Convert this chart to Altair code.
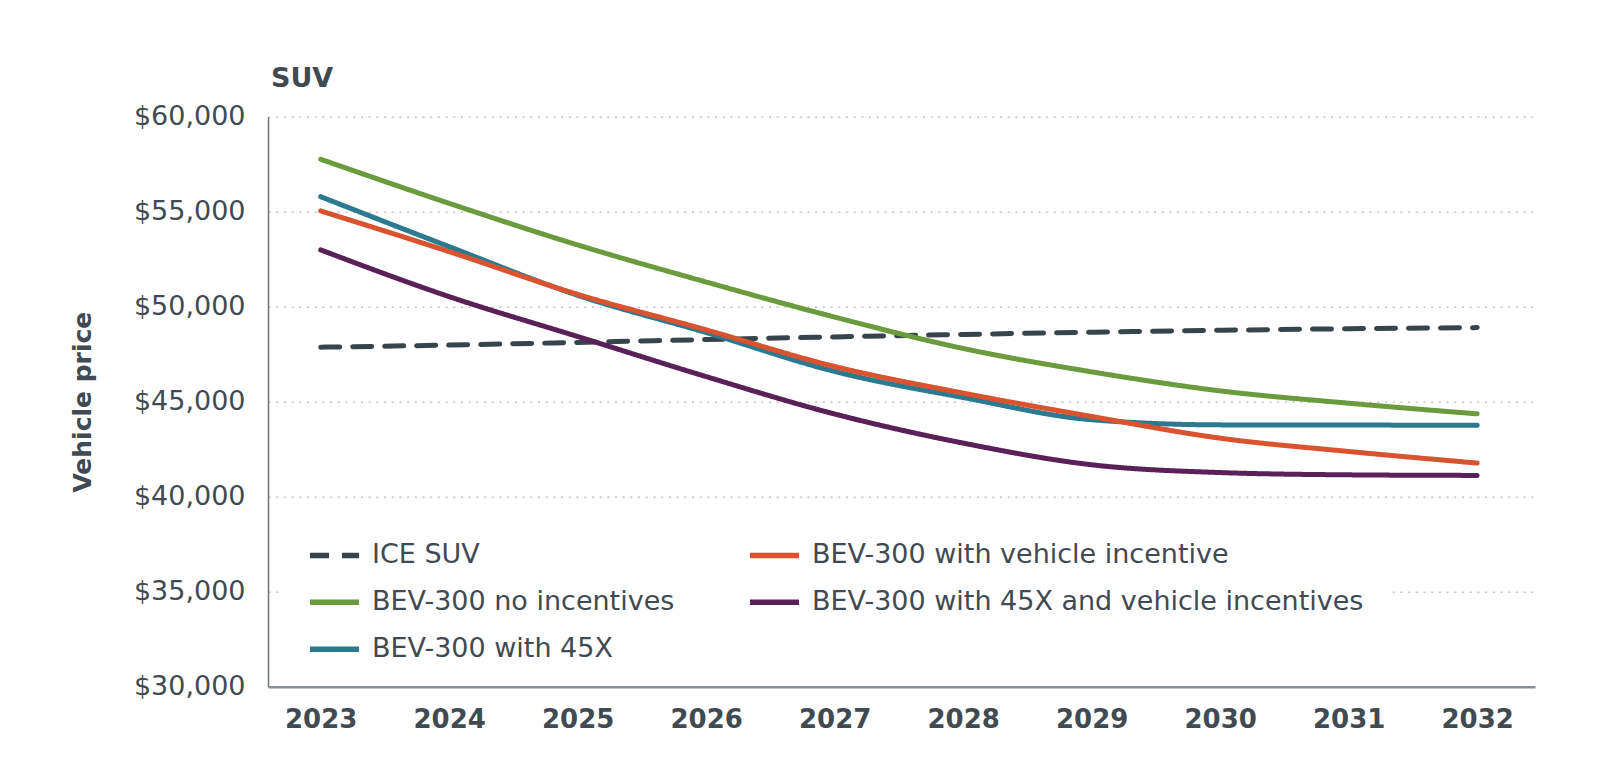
import altair as alt
import pandas as pd

years = [2023, 2024, 2025, 2026, 2027, 2028, 2029, 2030, 2031, 2032]

# legend is filled column by column: first column ICE / no incentives / 45X
series_names = [
    "ICE SUV",
    "BEV-300 no incentives",
    "BEV-300 with 45X",
    "BEV-300 with vehicle incentive",
    "BEV-300 with 45X and vehicle incentives",
]

ice_suv = [47870, 47980, 48120, 48270, 48410, 48540, 48660, 48760, 48840, 48900]
bev_no_incentives = [57760, 55440, 53250, 51300, 49450, 47800, 46570, 45570, 44920, 44360]
bev_45x = [55790, 53160, 50600, 48640, 46590, 45220, 44050, 43780, 43770, 43760]
bev_vehicle_incentive = [55040, 52900, 50650, 48780, 46850, 45450, 44220, 43080, 42380, 41770]
bev_45x_and_vehicle = [52990, 50530, 48430, 46320, 44350, 42820, 41680, 41270, 41150, 41120]

series_values = [ice_suv, bev_no_incentives, bev_45x, bev_vehicle_incentive, bev_45x_and_vehicle]
series_colors = ["#38444c", "#6b9b3c", "#2b7a90", "#d9532f", "#5a2058"]
series_dashes = [[19, 13], [1, 0], [1, 0], [1, 0], [1, 0]]

y_ticks = [30000, 35000, 40000, 45000, 50000, 55000, 60000]

rows = []
for name, vals in zip(series_names, series_values):
    for yr, v in zip(years, vals):
        rows.append({"year": yr, "price": v, "series": name})
df = pd.DataFrame(rows)

FONT = "DejaVu Sans"
TXT = "#3f4a52"

legend = alt.Legend(
    title=None,
    orient="none",
    legendX=11,
    legendY=383,
    columns=2,
    direction="vertical",
    columnPadding=64,
    rowPadding=6,
    padding=28,
    fillColor="white",
    symbolType="stroke",
    symbolSize=2401,
    symbolStrokeWidth=5.5,
    labelFont=FONT,
    labelFontSize=27,
    labelColor=TXT,
    labelOffset=10,
    labelLimit=0,
    zindex=0,
)

lines = alt.Chart(df).mark_line(
    strokeWidth=5, interpolate="monotone", strokeCap="round"
).encode(
    x=alt.X(
        "year:Q",
        scale=alt.Scale(domain=[2022.59, 2032.45], nice=False, zero=False),
        axis=alt.Axis(
            values=years,
            format="d",
            title=None,
            grid=False,
            ticks=False,
            labelFont=FONT,
            labelFontSize=26,
            labelFontWeight="bold",
            labelColor=TXT,
            labelPadding=20,
            domainColor="#8a9096",
            domainWidth=2.5,
            zindex=1,
        ),
    ),
    y=alt.Y(
        "price:Q",
        scale=alt.Scale(domain=[30000, 60000], nice=False, zero=False),
        axis=alt.Axis(
            values=y_ticks,
            format="$,d",
            title="Vehicle price",
            titleFont=FONT,
            titleFontSize=25,
            titleFontWeight="bold",
            titleColor=TXT,
            titleAngle=270,
            titleX=-185.5,
            titleY=285,
            titleAlign="center",
            titleBaseline="middle",
            ticks=False,
            labelFont=FONT,
            labelFontSize=27,
            labelColor=TXT,
            labelPadding=23,
            grid=True,
            gridColor="#c4c4c4",
            gridDash=[2, 5.7],
            gridWidth=1.5,
            domainColor="#6b7378",
            domainWidth=1.5,
            zindex=0,
        ),
    ),
    color=alt.Color(
        "series:N",
        sort=series_names,
        scale=alt.Scale(domain=series_names, range=series_colors),
        legend=legend,
    ),
    strokeDash=alt.StrokeDash(
        "series:N",
        sort=series_names,
        scale=alt.Scale(domain=series_names, range=series_dashes),
        legend=legend,
    ),
)

title_df = pd.DataFrame({"label": ["SUV"]})
title_text = alt.Chart(title_df).mark_text(
    font=FONT, fontSize=27, fontWeight="bold", color=TXT,
    align="left", baseline="alphabetic"
).encode(
    x=alt.value(3),
    y=alt.value(-30),
    text="label:N",
)

chart = alt.layer(lines, title_text).properties(
    width=1267,
    height=570,
    autosize=alt.AutoSizeParams(type="none"),
    padding={"left": 260, "top": 108.7, "right": 70, "bottom": 70},
    background="white",
).configure_view(stroke=None)

chart.save("out.html", embed_options={"renderer": "svg", "actions": False})
